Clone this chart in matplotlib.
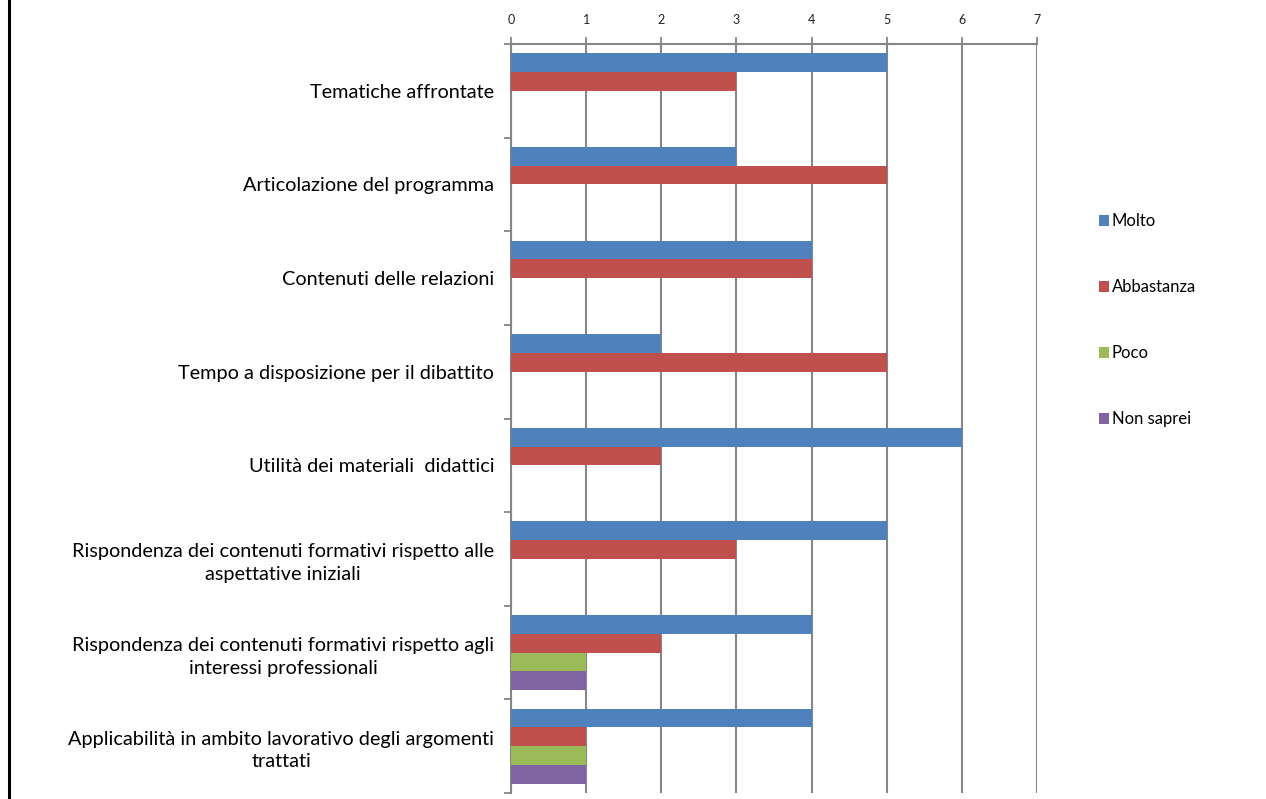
import numpy as np
import matplotlib.pyplot as plt
from matplotlib.lines import Line2D

# categories (top to bottom) and the four answer series
categories = [
    'Tematiche affrontate',
    'Articolazione del programma',
    'Contenuti delle relazioni',
    'Tempo a disposizione per il dibattito',
    'Utilità dei materiali  didattici',
    'Rispondenza dei contenuti formativi rispetto alle\naspettative iniziali',
    'Rispondenza dei contenuti formativi rispetto agli\ninteressi professionali',
    'Applicabilità in ambito lavorativo degli argomenti\ntrattati',
]
molto = [5, 3, 4, 2, 6, 5, 4, 4]
abbastanza = [3, 5, 4, 5, 2, 3, 2, 1]
poco = [0, 0, 0, 0, 0, 0, 1, 1]
non_saprei = [0, 0, 0, 0, 0, 0, 1, 1]
series_names = ['Molto', 'Abbastanza', 'Poco', 'Non saprei']
xticks = [0, 1, 2, 3, 4, 5, 6, 7]

colors = ['#4F81BD', '#C0504D', '#9BBB59', '#8064A2']
grid_col = '#868686'

plt.rcParams['font.family'] = ['Lato', 'DejaVu Sans']

fig = plt.figure(figsize=(12.66, 7.99), dpi=100)
ax = fig.add_axes([511 / 1266, 6 / 799, 526 / 1266, 749 / 799])

y = np.arange(len(categories))
h = 0.2
all_series = [molto, abbastanza, poco, non_saprei]
for k, vals in enumerate(all_series):
    ax.barh(y + (k - 1.5) * h, vals, height=h, color=colors[k],
            label=series_names[k], zorder=3)

ax.set_xlim(0, 7)
ax.set_ylim(len(categories) - 0.5, -0.5)

# x axis on top
ax.xaxis.tick_top()
ax.set_xticks(xticks)
ax.tick_params(axis='x', direction='out', length=5, width=1.3, color=grid_col,
               labelsize=9, labelcolor='#222222', pad=8)
ax.grid(True, axis='x', color=grid_col, linewidth=1.5, zorder=0)
ax.set_axisbelow(True)

# categories: labels at centres, tick marks at band boundaries
ax.set_yticks(y)
ax.set_yticklabels(categories, fontsize=14.3)
ax.set_yticks(np.arange(-0.5, len(categories)), minor=True)
ax.tick_params(axis='y', which='major', length=0, pad=12)
ax.tick_params(axis='y', which='minor', length=5, width=1.3, color=grid_col)
for lbl in ax.get_yticklabels():
    lbl.set_multialignment('center')
    lbl.set_linespacing(1.4)

for s in ['right', 'bottom']:
    ax.spines[s].set_visible(False)
for s in ['left', 'top']:
    ax.spines[s].set_color(grid_col)
    ax.spines[s].set_linewidth(1.5)

leg = fig.legend(loc='upper left', bbox_to_anchor=(1091 / 1266, 1 - 205 / 799),
                 frameon=False, fontsize=12, handlelength=0.6, handleheight=0.6,
                 handletextpad=0.15, labelspacing=3.0, borderpad=0)

# left border of the original frame
fig.add_artist(Line2D([8.5 / 1266, 8.5 / 1266], [0, 1], color='black', linewidth=2.2))

fig.savefig('out.png', dpi=100)
